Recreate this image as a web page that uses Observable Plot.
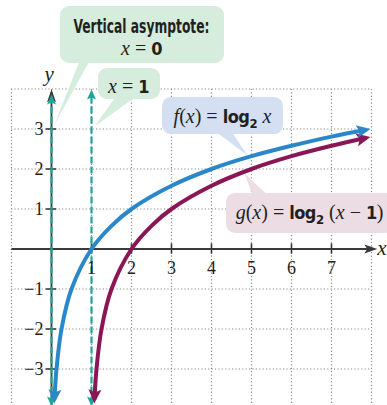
<!DOCTYPE html>
<html><head><meta charset="utf-8">
<script src="https://cdn.jsdelivr.net/npm/d3@7"></script>
<script src="https://cdn.jsdelivr.net/npm/@observablehq/plot@0.6"></script>
<style>body{margin:0;background:#fff} svg{display:block}</style>
</head><body><div id="chart"></div>
<script>
// ---- data ----
const xTicks = [1, 2, 3, 4, 5, 6, 7];
const xTickLabels = ["1", "2", "3", "4", "5", "6", "7"];
const yTicks = [-3, -2, -1, 1, 2, 3];
const yTickLabels = ["−3", "−2", "−1", "1", "2", "3"];
const gridXs = [-1, 0, 1, 2, 3, 4, 5, 6, 7, 8];
const gridYs = [-3, -2, -1, 1, 2, 3, 4];

// f(x) = log2 x
const fX = [0.074, 0.125, 0.25, 0.5, 1, 1.5, 2, 3, 4, 5, 6, 7, 7.875];
const fY = [-3.76, -3, -2, -1, 0, 0.58, 1, 1.58, 2, 2.32, 2.58, 2.81, 2.98];
// g(x) = log2 (x - 1)
const gX = [1.074, 1.125, 1.25, 1.5, 2, 2.5, 3, 4, 5, 6, 7, 7.875];
const gY = [-3.76, -3, -2, -1, 0, 0.58, 1, 1.58, 2, 2.32, 2.58, 2.78];

// vertical asymptotes (x = 0 for f, x = 1 for g)
const asymX = [0, 1];
const asymY1 = [-3.86, -3.86];
const asymY2 = [3.79, 3.91];

// callouts
const labelText = ["Vertical asymptote:", "x = 0", "x = 1", "f(x) = log2 x", "g(x) = log2 (x − 1)"];
const labelX = [2.25, 2.25, 1.925, 4.275, 6.45];
const labelY = [5.41, 4.84, 3.91, 3.14, 0.76];
const boxX1 = [0.225, 1.175, 2.775, 4.375];
const boxX2 = [4.325, 2.725, 5.8, 8.6];
const boxY1 = [4.64, 3.74, 2.86, 0.39];
const boxY2 = [6.06, 4.51, 3.79, 1.39];
const boxFill = ["#d6ecdd", "#d6ecdd", "#d4e0f2", "#ecdce3"];
const tailX = [[0.7, 0.95, 0.075], [1.6, 2.1, 1.075], [4.15, 4.525, 4.9], [5.025, 5.4, 4.825]];
const tailY = [[4.7, 4.7, 3.11], [3.8, 3.8, 3.06], [2.9, 2.9, 2.34], [1.35, 1.35, 1.89]];

const fColor = "#2a87c9";
const gColor = "#8b1656";
const teal = "#1fa596";
const ink = "#231f20";
const serif = "'Liberation Serif', 'DejaVu Serif', serif";
const sans = "'DejaVu Sans Condensed', 'DejaVu Sans', sans-serif";

const boxes = boxX1.map((d, i) => ({x1: d, x2: boxX2[i], y1: boxY1[i], y2: boxY2[i], fill: boxFill[i]}));
const fData = fX.map((x, i) => ({x, y: fY[i]}));
const gData = gX.map((x, i) => ({x, y: gY[i]}));
const labels = labelText.map((t, i) => ({t, x: labelX[i], y: labelY[i]}));
const asym = asymX.map((x, i) => ({x, y1: asymY1[i], y2: asymY2[i]}));

const tailMarks = tailX.map((xs, i) => Plot.line(xs.map((x, j) => ({x, y: tailY[i][j]})),
  {x: "x", y: "y", fill: boxFill[i], stroke: "none"}));

const chart = Plot.plot({
  width: 387, height: 405,
  style: {background: "#fff", color: ink, overflow: "hidden"},
  x: {domain: [-1, 8], range: [11, 371], axis: null},
  y: {domain: [-4, 4], range: [408.5, 88.5], axis: null},
  marks: [
    // dotted grid
    Plot.ruleX(gridXs, {x: d => d, y1: -4.2, y2: 4, stroke: "#8a8a8a", strokeWidth: 1.2, strokeDasharray: "1.2,2.2"}),
    Plot.ruleY(gridYs, {y: d => d, x1: -1, x2: 8, stroke: "#8a8a8a", strokeWidth: 1.2, strokeDasharray: "1.2,2.2"}),
    // callout boxes
    ...tailMarks,
    Plot.rect(boxes, {x1: "x1", x2: "x2", y1: "y1", y2: "y2", fill: "fill", rx: 9}),
    // axes
    Plot.link([0], {x1: -1, x2: 8.07, y1: 0, y2: 0, stroke: "#3a3a3a", strokeWidth: 1.8, markerEnd: "arrow"}),
    Plot.link([0], {x1: 0, x2: 0, y1: -4.3, y2: 3.92, stroke: "#3a3a3a", strokeWidth: 1.8, markerEnd: "arrow"}),
    Plot.ruleX(xTicks, {x: d => d, y1: -0.13, y2: 0.13, stroke: "#3a3a3a", strokeWidth: 1.6}),
    Plot.ruleY(yTicks, {y: d => d, x1: -0.13, x2: 0.13, stroke: "#3a3a3a", strokeWidth: 1.6}),
    // asymptotes
    Plot.link(asym, {x1: "x", x2: "x", y1: "y1", y2: "y2", stroke: teal, strokeWidth: 2.2, strokeDasharray: "7,3", markerStart: "arrow", markerEnd: "arrow"}),
    // curves
    Plot.line(gData, {x: "x", y: "y", stroke: gColor, strokeWidth: 4, curve: "catmull-rom", strokeLinecap: "butt", markerStart: "arrow", markerEnd: "arrow"}),
    Plot.line(fData, {x: "x", y: "y", stroke: fColor, strokeWidth: 4, curve: "catmull-rom", strokeLinecap: "butt", markerStart: "arrow", markerEnd: "arrow"}),
    // tick labels
    Plot.text(xTicks, {x: d => d, y: 0, text: (d, i) => xTickLabels[i], dy: 24.5, lineAnchor: "bottom", fontSize: 18, fontFamily: serif, fill: ink}),
    Plot.text(yTicks, {x: 0, y: d => d, text: (d, i) => yTickLabels[i], dx: -8, textAnchor: "end", lineAnchor: "middle", fontSize: 18, fontFamily: serif, fill: ink}),
    // axis names
    Plot.text(["y"], {x: -0.06, y: 4.21, text: d => d, lineAnchor: "bottom", fontSize: 21, fontFamily: serif, fontStyle: "italic", fill: ink}),
    Plot.text(["x"], {x: 8.26, y: -0.14, text: d => d, lineAnchor: "bottom", fontSize: 21, fontFamily: serif, fontStyle: "italic", fill: ink}),
    // callout texts
    Plot.text(labels, {x: "x", y: "y", text: "t", lineAnchor: "bottom", fontSize: 20, fontFamily: serif, fill: ink})
  ]
});
document.getElementById("chart").appendChild(chart);

// filled arrowheads (pointing outward at both ends)
d3.select(chart).selectAll("marker").each(function () {
  const m = d3.select(this);
  const c = m.attr("stroke");
  let d;
  if (c === fColor || c === gColor) d = "M-10,-6.5L4,0L-10,6.5L-7,0Z";
  else if (c === teal) d = "M-7,-4.5L3,0L-7,4.5L-5,0Z";
  else d = "M-10,-4.5L3,0L-10,4.5L-7,0Z";
  m.attr("viewBox", "-20 -20 40 40").attr("markerWidth", 40).attr("markerHeight", 40)
   .attr("markerUnits", "userSpaceOnUse").attr("orient", "auto-start-reverse")
   .attr("fill", c).attr("stroke", "none");
  m.selectAll("*").remove();
  m.append("path").attr("d", d);
});

// rich callout text
const rich = {
  "Vertical asymptote:": [["b", "Vertical asymptote:", 136]],
  "x = 0": [["i", "x"], ["r", " = "], ["b", "0"]],
  "x = 1": [["i", "x"], ["r", " = "], ["b", "1"]],
  "f(x) = log2 x": [["i", "f"], ["r", "("], ["i", "x"], ["r", ")"], ["r", " = "], ["b", "log"], ["sub", "2"], ["r", " "], ["i", "x"]],
  "g(x) = log2 (x − 1)": [["i", "g"], ["r", "("], ["i", "x"], ["r", ")"], ["r", " = "], ["b", "log"], ["sub", "2"], ["r", " ("], ["i", "x"], ["r", " − "], ["b", "1"], ["r", ")"]]
};
d3.select(chart).selectAll("text").each(function () {
  const segs = rich[this.textContent];
  if (!segs) return;
  const t = d3.select(this).style("white-space", "pre");
  t.text(null);
  let sub = false;
  for (const [k, s, w] of segs) {
    const ts = t.append("tspan").text(s);
    if (sub) { ts.attr("dy", -5); sub = false; }
    if (k === "i") ts.attr("font-style", "italic").attr("font-family", serif);
    else if (k === "r") ts.attr("font-family", serif);
    else if (k === "b") {
      ts.attr("font-family", sans).attr("font-weight", "bold").attr("font-stretch", "condensed");
      if (w) ts.attr("textLength", w).attr("lengthAdjust", "spacingAndGlyphs");
      else ts.attr("font-size", 18).attr("letter-spacing", -0.5);
    } else if (k === "sub") {
      ts.attr("font-family", sans).attr("font-weight", "bold").attr("font-size", 13).attr("dy", 5);
      sub = true;
    }
  }
});
</script>
</body></html>
